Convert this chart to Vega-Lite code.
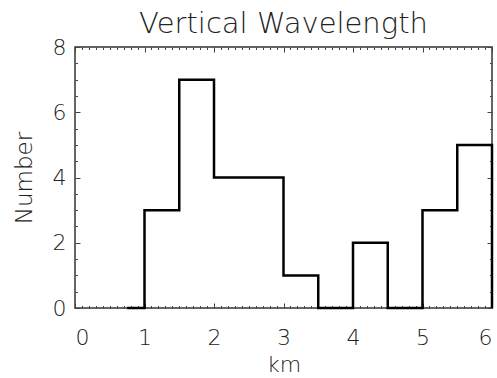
{
  "$schema": "https://vega.github.io/schema/vega-lite/v6.json",
  "width": 417,
  "height": 261,
  "autosize": {"type": "none"},
  "padding": {"left": 75, "top": 47, "right": 5, "bottom": 70},
  "background": "white",
  "title": {"text": "Vertical Wavelength", "fontSize": 29, "font": "DejaVu Sans", "fontWeight": 200, "color": "#222222", "offset": -3, "anchor": "middle"},
  "config": {
    "view": {"stroke": "#333333", "strokeWidth": 1.5},
    "axis": {"grid": false, "domain": false, "labelFont": "DejaVu Sans", "titleFont": "DejaVu Sans", "labelFontWeight": 200, "labelColor": "#222222", "titleColor": "#222222", "tickColor": "#444444", "titleFontWeight": 200}
  },
  "data": {"values": [
    {"km": 0.75, "number": 0},
    {"km": 1.0, "number": 3},
    {"km": 1.5, "number": 7},
    {"km": 2.0, "number": 4},
    {"km": 2.5, "number": 4},
    {"km": 3.0, "number": 1},
    {"km": 3.5, "number": 0},
    {"km": 4.0, "number": 2},
    {"km": 4.5, "number": 0},
    {"km": 5.0, "number": 3},
    {"km": 5.5, "number": 5},
    {"km": 6.0, "number": 5},
    {"km": 6.0, "number": 0}
  ]},
  "resolve": {"axis": {"x": "independent", "y": "independent"}},
  "layer": [
    {
      "mark": {"type": "line", "interpolate": "step-after", "color": "black", "strokeWidth": 2.5},
      "encoding": {
        "x": {"field": "km", "type": "quantitative", "scale": {"domain": [0, 6], "nice": false, "zero": false},
          "axis": {"orient": "bottom", "values": [0,1,2,3,4,5,6], "ticks": false, "labelFontSize": 22, "labelPadding": 19, "title": "km", "titleColor": "#222222", "titleFontWeight": 300, "titleFontSize": 22, "titlePadding": 6}},
        "y": {"field": "number", "type": "quantitative", "scale": {"domain": [0, 8], "nice": false},
          "axis": {"orient": "left", "values": [0,2,4,6,8], "ticks": false, "labelFontSize": 22, "labelPadding": 9, "title": "Number", "titleColor": "#222222", "titleFontSize": 23, "titlePadding": 16}},
        "order": {"field": "km"}
      }
    },
    {
      "mark": {"type": "line", "opacity": 0},
      "encoding": {
        "x": {"field": "km", "type": "quantitative", "axis": {"orient": "bottom", "values": [0,1,2,3,4,5,6], "labels": false, "tickSize": -5, "title": null}},
        "y": {"field": "number", "type": "quantitative", "axis": {"orient": "left", "values": [0,2,4,6,8], "labels": false, "tickSize": -5, "title": null}}
      }
    },
    {
      "mark": {"type": "line", "opacity": 0},
      "encoding": {
        "x": {"field": "km", "type": "quantitative", "axis": {"orient": "bottom", "values": [0,0.1,0.2,0.3,0.4,0.5,0.6,0.7,0.8,0.9,1,1.1,1.2,1.3,1.4,1.5,1.6,1.7,1.8,1.9,2,2.1,2.2,2.3,2.4,2.5,2.6,2.7,2.8,2.9,3,3.1,3.2,3.3,3.4,3.5,3.6,3.7,3.8,3.9,4,4.1,4.2,4.3,4.4,4.5,4.6,4.7,4.8,4.9,5,5.1,5.2,5.3,5.4,5.5,5.6,5.7,5.8,5.9,6], "labels": false, "tickSize": -2.5, "title": null}},
        "y": {"field": "number", "type": "quantitative", "axis": {"orient": "left", "values": [0,0.5,1,1.5,2,2.5,3,3.5,4,4.5,5,5.5,6,6.5,7,7.5,8], "labels": false, "tickSize": -2.5, "title": null}}
      }
    },
    {
      "mark": {"type": "line", "opacity": 0},
      "encoding": {
        "x": {"field": "km", "type": "quantitative", "axis": {"orient": "top", "values": [0,1,2,3,4,5,6], "labels": false, "tickSize": -5, "title": null}},
        "y": {"field": "number", "type": "quantitative", "axis": {"orient": "right", "values": [0,2,4,6,8], "labels": false, "tickSize": -5, "title": null}}
      }
    },
    {
      "mark": {"type": "line", "opacity": 0},
      "encoding": {
        "x": {"field": "km", "type": "quantitative", "axis": {"orient": "top", "values": [0,0.1,0.2,0.3,0.4,0.5,0.6,0.7,0.8,0.9,1,1.1,1.2,1.3,1.4,1.5,1.6,1.7,1.8,1.9,2,2.1,2.2,2.3,2.4,2.5,2.6,2.7,2.8,2.9,3,3.1,3.2,3.3,3.4,3.5,3.6,3.7,3.8,3.9,4,4.1,4.2,4.3,4.4,4.5,4.6,4.7,4.8,4.9,5,5.1,5.2,5.3,5.4,5.5,5.6,5.7,5.8,5.9,6], "labels": false, "tickSize": -2.5, "title": null}},
        "y": {"field": "number", "type": "quantitative", "axis": {"orient": "right", "values": [0,0.5,1,1.5,2,2.5,3,3.5,4,4.5,5,5.5,6,6.5,7,7.5,8], "labels": false, "tickSize": -2.5, "title": null}}
      }
    }
  ]
}
